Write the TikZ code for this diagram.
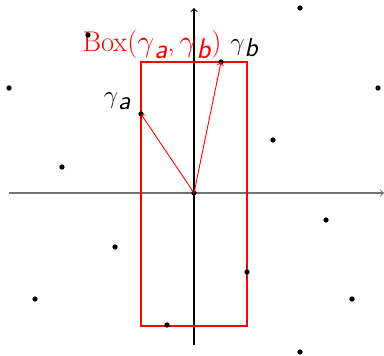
\documentclass[tikz,border=0pt]{standalone}
\newcommand{\gam}[1]{$\gamma$\raisebox{-0.22em}{\textsf{\itshape #1}}}

\begin{document}
\begin{tikzpicture}[x=0.02cm, y=0.02cm, font=\fontsize{14.8}{17}\selectfont]
  \useasboundingbox (-194, -162) rectangle (190, 193);

  % Axes
  \draw [->, black!55, line width=0.6pt] (-185, 0) -- (190, 0);
  \draw [->, line width=0.6pt] (0, -152) -- (0, 185);

  % The box spanned by the two vectors
  \coordinate (o) at (0, 0);
  \coordinate (ga) at (-53, 79);
  \coordinate (gb) at (27, 131);
  \draw [red, line width=1.5pt] (-53, -133) rectangle (53, 131);
  \node [red, above, inner sep=1pt, font=\fontsize{16.2}{18}\selectfont] (boxlabel) at (-42, 132) {Box(\gam{a},\,\gam{b})};

  % Lattice points
  \foreach \p in {(-106,158), (106,185), (-185,105), (184,105), (-53,79),
                  (27,131), (-132,26), (79,53), (0,0), (-79,-54), (132,-27),
                  (53,-79), (-27,-132), (-159,-106), (158,-106), (106,-159)}
    \fill \p circle (1.5pt);

  % The two vectors
  \draw [->, red, line width=0.5pt] (o) -- (ga);
  \draw [->, red, line width=0.5pt] (o) -- (gb);
  \node [anchor=south east, inner sep=0pt] (galabel) at ([xshift=-10*0.02cm, yshift=4*0.02cm]ga) {\gam{a}};
  \node [anchor=south west, inner sep=0pt] (gblabel) at ([xshift=9*0.02cm, yshift=5*0.02cm]gb) {\gam{b}};
\end{tikzpicture}
\end{document}
